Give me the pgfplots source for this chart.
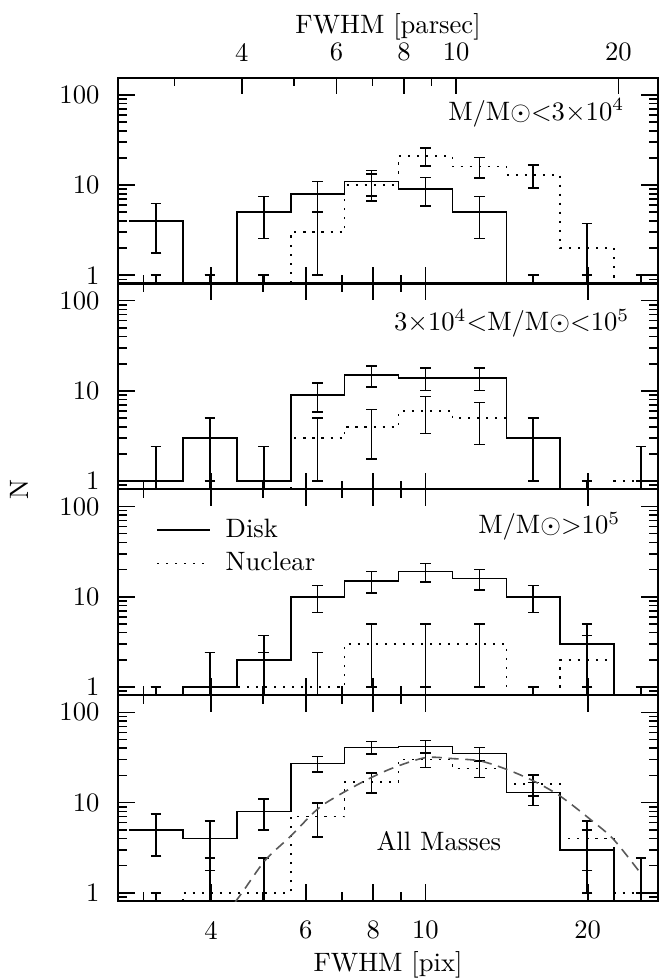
\documentclass[border=0pt]{standalone}
\usepackage{pgfplots}
\pgfplotsset{compat=1.18}
\usepackage{pgfplotstable}

% error bar tables: bin centre, disk N with +/- errors, nuclear N with +/- errors
% (zero bins are put at 0.5 so that only the bar up to 1 shows)
\pgfplotstableread{
x      d    dp    dm    n    np    nm
3.1623 4    2.236 2.236 0.5  0.5   0.3
3.9811 0.5  0.5   0.3   0.5  0.5   0.3
5.0119 5    2.449 2.449 0.5  0.5   0.3
6.3096 8    3     3     3    2     2
7.9433 11   3.464 3.464 10   3.317 3.317
10     9    3.162 3.162 21   4.690 4.690
12.589 5    2.449 2.449 16   4.123 4.123
15.849 0.5  0.5   0.3   13   3.742 3.742
19.953 0.5  0.5   0.3   2    1.732 1.732
25.119 0.5  0.5   0.3   0.5  0.5   0.3
}\errA
\pgfplotstableread{
x      d    dp    dm    n    np    nm
3.1623 1    1.414 0.8   0.5  0.5   0.3
3.9811 3    2     2     0.5  0.5   0.3
5.0119 1    1.414 0.8   0.5  0.5   0.3
6.3096 9    3.162 3.162 3    2     2
7.9433 15   4     4     4    2.236 2.236
10     14   3.873 3.873 6    2.646 2.646
12.589 14   3.873 3.873 5    2.449 2.449
15.849 3    2     2     3    2     2
19.953 0.5  0.5   0.3   0.5  0.5   0.3
25.119 0.5  0.5   0.3   1    1.414 0.8
}\errB
\pgfplotstableread{
x      d    dp    dm    n    np    nm
3.1623 0.5  0.5   0.3   0.5  0.5   0.3
3.9811 1    1.414 0.8   1    1.414 0.8
5.0119 2    1.732 1.732 1    1.414 0.8
6.3096 10   3.317 3.317 1    1.414 0.8
7.9433 15   4     4     3    2     2
10     19   4.472 4.472 3    2     2
12.589 16   4.123 4.123 3    2     2
15.849 10   3.317 3.317 0.5  0.5   0.3
19.953 3    2     2     2    1.732 1.732
25.119 0.5  0.5   0.3   0.5  0.5   0.3
}\errC
\pgfplotstableread{
x      d    dp    dm    n    np    nm
3.1623 5    2.449 2.449 0.5  0.5   0.3
3.9811 4    2.236 2.236 1    1.414 0.8
5.0119 8    3     3     1    1.414 0.8
6.3096 27   5.292 5.292 7    2.828 2.828
7.9433 41   6.481 6.481 17   4.243 4.243
10     42   6.557 6.557 30   5.568 5.568
12.589 35   6     6     24   5     5
15.849 13   3.742 3.742 16   4.123 4.123
19.953 3    2     2     4    2.236 2.236
25.119 0.5  0.5   0.3   1    1.414 0.8
}\errD

\pgfplotsset{
  every axis/.append style={
    width=203pt, height=77.4pt, scale only axis,
    major tick length=6.3pt, minor tick length=3.3pt,
    tick style={black, line width=0.6pt},
    axis line style={line width=0.8pt},
  },
}

\begin{document}
\begin{tikzpicture}
\useasboundingbox (-44.4pt,-338.9pt) rectangle (206.4pt,29.2pt);

% ---- panel 1: M < 3e4
\begin{axis}[at={(0pt,0pt)}, anchor=north west,
    xmode=log, ymode=log, xmin=2.69, xmax=27.0, ymin=0.81, ymax=155,
    xtick={4,6,8,10,20}, minor xtick={3,5,7,9}, xticklabels={},
    ytick={1,10,100}, yticklabels={1,10,100},
    minor ytick={0.9,2,3,4,5,6,7,8,9,20,30,40,50,60,70,80,90},
    xtick pos=left, ytick pos=both,
    yticklabel style={xshift=-3.5pt}]
  \addplot[black, line width=0.6pt, const plot mark left, mark=none] coordinates {
    (2.8184,4) (3.5481,0.01) (4.4668,5) (5.6234,8) (7.0795,11) (8.9125,9)
    (11.220,5) (14.125,0.01) (17.783,0.01) (22.387,0.01) (28.184,0.01)};
  \addplot[black, line width=0.6pt, dash pattern=on 0.8pt off 2.6pt, const plot mark left, mark=none] coordinates {
    (2.8184,0.01) (3.5481,0.01) (4.4668,0.01) (5.6234,3) (7.0795,10) (8.9125,21)
    (11.220,16) (14.125,13) (17.783,2) (22.387,0.01) (28.184,0.01)};
  \addplot[black, line width=0.6pt, only marks, mark=text, text mark={}, forget plot,
    error bars/.cd, y dir=both, y explicit,
    error bar style={line width=0.6pt, solid},
    error mark options={line width=0.6pt, mark size=2pt, rotate=90}]
    table[x=x, y=d, y error plus=dp, y error minus=dm] {\errA};
  \addplot[black, line width=0.6pt, only marks, mark=text, text mark={}, forget plot,
    error bars/.cd, y dir=both, y explicit,
    error bar style={line width=0.6pt, solid},
    error mark options={line width=0.6pt, mark size=2pt, rotate=90}]
    table[x=x, y=n, y error plus=np, y error minus=nm] {\errA};
  \node at (rel axis cs:0.7745,0.828) {M/M$\odot{<}3{\times}10^{4}$};
\end{axis}

% top axis in parsec
\begin{axis}[at={(0pt,0pt)}, anchor=north west,
    xmode=log, xmin=2.359, xmax=23.68, ymin=0, ymax=1,
    axis x line*=top, axis y line=none, xtick align=inside,
    xtick={4,6,8,10,20}, xticklabels={4,6,8,10,20}, minor xtick={3,5,7,9},
    xticklabel style={yshift=2.7pt},
    xlabel={FWHM [parsec]},
    xlabel style={at={(axis description cs:0.5,1)}, anchor=base, yshift=16.5pt}]
  \addplot[draw=none, mark=none] coordinates {(3,0.5) (20,0.5)};
\end{axis}

% ---- panel 2: 3e4 < M < 1e5
\begin{axis}[at={(0pt,-77.4pt)}, anchor=north west,
    xmode=log, ymode=log, xmin=2.69, xmax=27.0, ymin=0.81, ymax=155,
    xtick={4,6,8,10,20}, minor xtick={3,5,7,9}, xticklabels={},
    ytick={1,10,100}, yticklabels={1,10,100},
    minor ytick={0.9,2,3,4,5,6,7,8,9,20,30,40,50,60,70,80,90},
    xtick pos=both, ytick pos=both,
    yticklabel style={xshift=-3.5pt}]
  \addplot[black, line width=0.6pt, const plot mark left, mark=none] coordinates {
    (2.8184,1) (3.5481,3) (4.4668,1) (5.6234,9) (7.0795,15) (8.9125,14)
    (11.220,14) (14.125,3) (17.783,0.01) (22.387,0.01) (28.184,0.01)};
  \addplot[black, line width=0.6pt, dash pattern=on 0.8pt off 2.6pt, const plot mark left, mark=none] coordinates {
    (2.8184,0.01) (3.5481,0.01) (4.4668,0.01) (5.6234,3) (7.0795,4) (8.9125,6)
    (11.220,5) (14.125,3) (17.783,0.01) (22.387,1) (28.184,1)};
  \addplot[black, line width=0.6pt, only marks, mark=text, text mark={}, forget plot,
    error bars/.cd, y dir=both, y explicit,
    error bar style={line width=0.6pt, solid},
    error mark options={line width=0.6pt, mark size=2pt, rotate=90}]
    table[x=x, y=d, y error plus=dp, y error minus=dm] {\errB};
  \addplot[black, line width=0.6pt, only marks, mark=text, text mark={}, forget plot,
    error bars/.cd, y dir=both, y explicit,
    error bar style={line width=0.6pt, solid},
    error mark options={line width=0.6pt, mark size=2pt, rotate=90}]
    table[x=x, y=n, y error plus=np, y error minus=nm] {\errB};
  \node at (rel axis cs:0.729,0.806) {$3{\times}10^{4}{<}$M/M$\odot{<}10^{5}$};
\end{axis}

% ---- panel 3: M > 1e5
\begin{axis}[at={(0pt,-154.8pt)}, anchor=north west,
    xmode=log, ymode=log, xmin=2.69, xmax=27.0, ymin=0.81, ymax=155,
    xtick={4,6,8,10,20}, minor xtick={3,5,7,9}, xticklabels={},
    ytick={1,10,100}, yticklabels={1,10,100},
    minor ytick={0.9,2,3,4,5,6,7,8,9,20,30,40,50,60,70,80,90},
    xtick pos=both, ytick pos=both,
    yticklabel style={xshift=-3.5pt},
    legend style={draw=none, fill=none, at={(rel axis cs:0.055,0.91)}, anchor=north west,
      row sep=0pt},
    legend cell align=left,
    legend image code/.code={\draw[#1] (0pt,0pt) -- (20pt,0pt); \path (23.5pt,0pt);}]
  \addplot[black, line width=0.6pt, const plot mark left, mark=none] coordinates {
    (2.8184,0.01) (3.5481,1) (4.4668,2) (5.6234,10) (7.0795,15) (8.9125,19)
    (11.220,16) (14.125,10) (17.783,3) (22.387,0.01) (28.184,0.01)};
  \addlegendentry{Disk}
  \addplot[black, line width=0.6pt, dash pattern=on 0.8pt off 2.6pt, const plot mark left, mark=none] coordinates {
    (2.8184,0.01) (3.5481,1) (4.4668,1) (5.6234,1) (7.0795,3) (8.9125,3)
    (11.220,3) (14.125,0.01) (17.783,2) (22.387,0.01) (28.184,0.01)};
  \addlegendentry{Nuclear}
  \addplot[black, line width=0.6pt, only marks, mark=text, text mark={}, forget plot,
    error bars/.cd, y dir=both, y explicit,
    error bar style={line width=0.6pt, solid},
    error mark options={line width=0.6pt, mark size=2pt, rotate=90}]
    table[x=x, y=d, y error plus=dp, y error minus=dm] {\errC};
  \addplot[black, line width=0.6pt, only marks, mark=text, text mark={}, forget plot,
    error bars/.cd, y dir=both, y explicit,
    error bar style={line width=0.6pt, solid},
    error mark options={line width=0.6pt, mark size=2pt, rotate=90}]
    table[x=x, y=n, y error plus=np, y error minus=nm] {\errC};
  \node at (rel axis cs:0.7986,0.820) {M/M$\odot{>}10^{5}$};
\end{axis}

% ---- panel 4: all masses
\begin{axis}[at={(0pt,-232.2pt)}, anchor=north west,
    xmode=log, ymode=log, xmin=2.69, xmax=27.0, ymin=0.81, ymax=155,
    xtick={4,6,8,10,20}, minor xtick={3,5,7,9}, xticklabels={4,6,8,10,20},
    ytick={1,10,100}, yticklabels={1,10,100},
    minor ytick={0.9,2,3,4,5,6,7,8,9,20,30,40,50,60,70,80,90},
    xtick pos=both, ytick pos=both,
    yticklabel style={xshift=-3.5pt}, xticklabel style={yshift=-4pt},
    xlabel={FWHM [pix]},
    xlabel style={at={(axis description cs:0.5,0)}, anchor=base, yshift=-26.6pt}]
  \addplot[black, line width=0.6pt, const plot mark left, mark=none] coordinates {
    (2.8184,5) (3.5481,4) (4.4668,8) (5.6234,27) (7.0795,41) (8.9125,42)
    (11.220,35) (14.125,13) (17.783,3) (22.387,0.01) (28.184,0.01)};
  \addplot[black, line width=0.6pt, dash pattern=on 0.8pt off 2.6pt, const plot mark left, mark=none] coordinates {
    (2.8184,0.01) (3.5481,1) (4.4668,1) (5.6234,7) (7.0795,17) (8.9125,30)
    (11.220,24) (14.125,16) (17.783,4) (22.387,1) (28.184,1)};
  \addplot[black, line width=0.6pt, only marks, mark=text, text mark={}, forget plot,
    error bars/.cd, y dir=both, y explicit,
    error bar style={line width=0.6pt, solid},
    error mark options={line width=0.6pt, mark size=2pt, rotate=90}]
    table[x=x, y=d, y error plus=dp, y error minus=dm] {\errD};
  \addplot[black, line width=0.6pt, only marks, mark=text, text mark={}, forget plot,
    error bars/.cd, y dir=both, y explicit,
    error bar style={line width=0.6pt, solid},
    error mark options={line width=0.6pt, mark size=2pt, rotate=90}]
    table[x=x, y=n, y error plus=np, y error minus=nm] {\errD};
  \addplot[smooth, color=black!65, line width=0.6pt, dash pattern=on 3.8pt off 2.5pt, mark=none]
    coordinates {(4.436,0.79) (4.603,1.07) (5.047,2.31) (5.610,4.2) (6.295,8.4)
    (6.855,11.8) (7.798,18.0) (8.730,24.4) (10.0,31.5) (11.27,30.7) (12.65,28.9)
    (14.16,23.3) (15.89,17.3) (17.78,11.8) (20.23,6.5) (22.34,3.9) (25.06,1.65)};
  \node at (rel axis cs:0.594,0.29) {All Masses};
\end{axis}

\node[rotate=90] at (-37.2pt,-154.8pt) {N};
\end{tikzpicture}
\end{document}
